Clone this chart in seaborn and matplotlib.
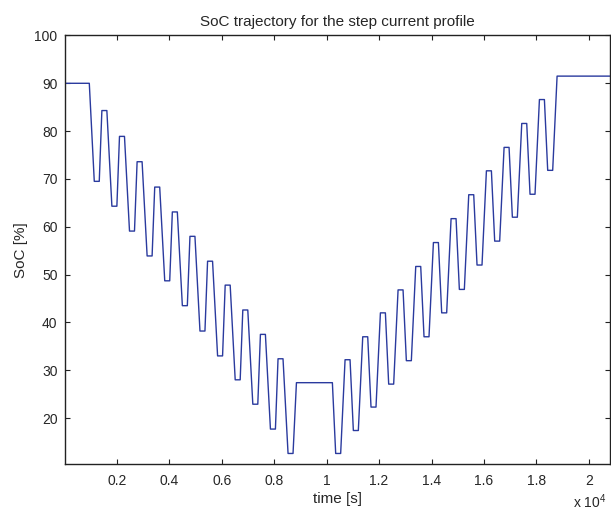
import matplotlib
matplotlib.use("Agg")
import matplotlib.pyplot as plt
import seaborn as sns
import pandas as pd

# Simulated state-of-charge under a stepped current profile (corner points of the trajectory)
time_s = [
    0, 945,
    1135, 1325, 1425, 1615,
    1807, 1997, 2097, 2287,
    2479, 2669, 2769, 2959,
    3151, 3341, 3441, 3631,
    3823, 4013, 4113, 4303,
    4495, 4685, 4785, 4975,
    5167, 5357, 5457, 5647,
    5839, 6029, 6129, 6319,
    6511, 6701, 6801, 6991,
    7183, 7373, 7473, 7663,
    7855, 8045, 8145, 8335,
    8527, 8717,
    8847, 10218,
    10344, 10534, 10702, 10892,
    11018, 11208, 11376, 11566,
    11692, 11882, 12050, 12240,
    12366, 12556, 12724, 12914,
    13040, 13230, 13398, 13588,
    13714, 13904, 14072, 14262,
    14388, 14578, 14746, 14936,
    15062, 15252, 15420, 15610,
    15736, 15926, 16094, 16284,
    16410, 16600, 16768, 16958,
    17084, 17274, 17442, 17632,
    17758, 17948, 18116, 18306,
    18432, 18622, 18790, 20800,
]
soc_pct = [
    90.0, 90.0,
    69.5, 69.5, 84.3, 84.3,
    64.3, 64.3, 78.9, 78.9,
    59.1, 59.1, 73.6, 73.6,
    53.9, 53.9, 68.3, 68.3,
    48.7, 48.7, 63.1, 63.1,
    43.5, 43.5, 58.0, 58.0,
    38.2, 38.2, 52.8, 52.8,
    33.0, 33.0, 47.8, 47.8,
    28.0, 28.0, 42.6, 42.6,
    22.9, 22.9, 37.5, 37.5,
    17.7, 17.7, 32.4, 32.4,
    12.6, 12.6,
    27.4, 27.4,
    12.6, 12.6, 32.2, 32.2,
    17.4, 17.4, 37.0, 37.0,
    22.3, 22.3, 42.0, 42.0,
    27.1, 27.1, 46.8, 46.8,
    32.0, 32.0, 51.7, 51.7,
    37.0, 37.0, 56.7, 56.7,
    42.0, 42.0, 61.7, 61.7,
    46.9, 46.9, 66.7, 66.7,
    52.0, 52.0, 71.7, 71.7,
    57.0, 57.0, 76.6, 76.6,
    62.0, 62.0, 81.6, 81.6,
    66.8, 66.8, 86.6, 86.6,
    71.8, 71.8, 91.5, 91.5,
]

x_ticks = [2000, 4000, 6000, 8000, 10000, 12000, 14000, 16000, 18000, 20000]
x_tick_labels = ["0.2", "0.4", "0.6", "0.8", "1", "1.2", "1.4", "1.6", "1.8", "2"]
y_ticks = [20, 30, 40, 50, 60, 70, 80, 90, 100]

df = pd.DataFrame({"time": time_s, "soc": soc_pct})

sns.set_style("ticks")
plt.rcParams["font.family"] = ["Liberation Sans", "DejaVu Sans"]
plt.rcParams["mathtext.fontset"] = "custom"
plt.rcParams["mathtext.rm"] = "Liberation Sans"
plt.rcParams["mathtext.it"] = "Liberation Sans"

fig = plt.figure(figsize=(6.11, 5.14), dpi=100)
ax = fig.add_axes([0.1056, 0.0973, 0.8924, 0.8337])

sns.lineplot(data=df, x="time", y="soc", ax=ax, color="#2a3a9e",
             linewidth=1.0, sort=False, estimator=None)

ax.set_xlim(0, 20800)
ax.set_ylim(10.4, 100)
ax.set_xticks(x_ticks)
ax.set_xticklabels(x_tick_labels)
ax.set_yticks(y_ticks)

ax.tick_params(axis="both", which="both", direction="in", length=3.6, width=0.8,
               top=True, right=True, labelsize=10, color="#222222")
ax.tick_params(axis="x", pad=7)
ax.tick_params(axis="y", pad=5)
for side in ["left", "right", "top", "bottom"]:
    ax.spines[side].set_visible(True)
    ax.spines[side].set_linewidth(1.0)
    ax.spines[side].set_color("#222222")

ax.set_title("SoC trajectory for the step current profile", fontsize=11, pad=7)
ax.set_xlabel("time [s]", fontsize=11, labelpad=3)
ax.set_ylabel("SoC [%]", fontsize=11, labelpad=5)

fig.text(0.992, 0.006, r"x 10$^{4}$", ha="right", va="bottom", fontsize=10)

fig.savefig("out.png", dpi=100)
